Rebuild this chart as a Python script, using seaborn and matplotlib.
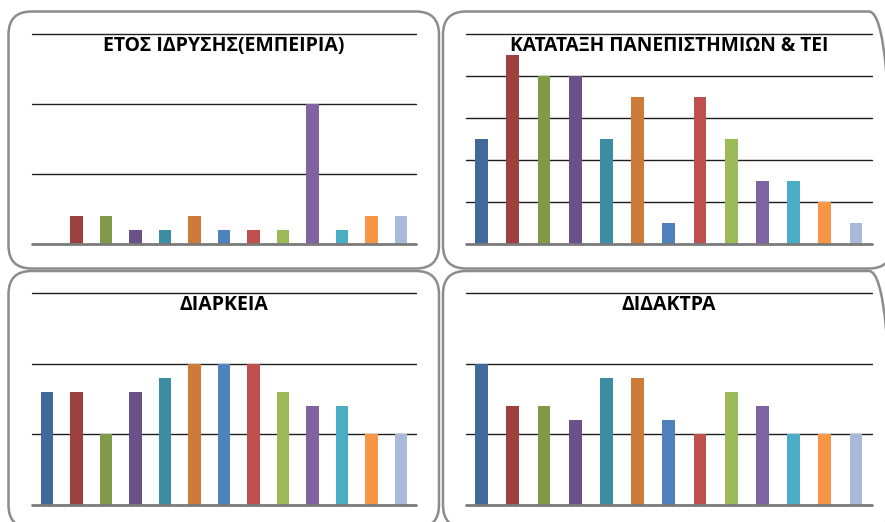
import matplotlib
matplotlib.use("Agg")
import matplotlib.pyplot as plt
from matplotlib.patches import FancyBboxPatch
import seaborn as sns
import pandas as pd

# ---- data ----
categories = [str(i) for i in range(1, 14)]
titles = ["ΕΤΟΣ ΙΔΡΥΣΗΣ(ΕΜΠΕΙΡΙΑ)", "ΚΑΤΑΤΑΞΗ ΠΑΝΕΠΙΣΤΗΜΙΩΝ & ΤΕΙ",
          "ΔΙΑΡΚΕΙΑ", "ΔΙΔΑΚΤΡΑ"]
etos_idrysis = [0, 2, 2, 1, 1, 2, 1, 1, 1, 10, 1, 2, 2]
katataxi = [5, 9, 8, 8, 5, 7, 1, 7, 5, 3, 3, 2, 1]
diarkeia = [8, 8, 5, 8, 9, 10, 10, 10, 8, 7, 7, 5, 5]
didaktra = [10, 7, 7, 6, 9, 9, 6, 5, 8, 7, 5, 5, 5]
y_max = [15, 10, 15, 15]
y_step = [5, 2, 5, 5]
palette = ["#41699B", "#9E413E", "#7F9A48", "#69518A", "#3C8DA3", "#CC7B38",
           "#4F81BD", "#C0504D", "#9BBB59", "#8064A2", "#4BACC6", "#F79646",
           "#A9B9D9"]

series = [etos_idrysis, katataxi, diarkeia, didaktra]

sns.set_theme(style="white")
plt.rcParams['font.family'] = ['Open Sans', 'DejaVu Sans']

W, H = 885, 522
fig = plt.figure(figsize=(W / 100, H / 100), dpi=100)

# rounded panel boxes (pixel coords: x0, y0_top, x1, y1_bottom)
boxes = [(8.5, 11.5, 439, 268.5), (443, 11.5, 892, 268.5),
         (8.5, 271, 439, 528), (443, 271, 892, 528)]
for (x0, yt, x1, yb) in boxes:
    p = FancyBboxPatch((x0 / W, 1 - yb / H), (x1 - x0) / W, (yb - yt) / H,
                       boxstyle="round,pad=0,rounding_size=0.026",
                       transform=fig.transFigure, facecolor="none",
                       edgecolor="#8c8c8c", linewidth=1.8, zorder=10,
                       mutation_aspect=W / H)
    fig.patches.append(p)

# axes rects (pixel coords: left, top gridline, right, baseline)
rects = [(32.3, 34, 415.7, 243.5), (466, 34, 871.7, 244.3),
         (32.3, 293.3, 415.7, 505), (466, 293.3, 871.7, 505)]
title_sizes = [14.0, 13.8, 14.0, 14.0]

for i, (l, t, r, b) in enumerate(rects):
    ax = fig.add_axes([l / W, 1 - b / H, (r - l) / W, (b - t) / H])
    ax.set_facecolor("none")
    df = pd.DataFrame({"cat": categories, "val": series[i]})
    sns.barplot(data=df, x="cat", y="val", hue="cat", palette=palette,
                legend=False, width=0.41, ax=ax, saturation=1,
                edgecolor="none", zorder=3)
    ax.set_xlim(-0.5, len(categories) - 0.5)
    ax.set_ylim(0, y_max[i])
    for v in range(y_step[i], y_max[i] + 1, y_step[i]):
        ax.axhline(v, color="#1e1e1e", lw=1.0, zorder=1, clip_on=False)
    ax.axhline(0, color="#7a7a7a", lw=2.0, zorder=4, clip_on=False)
    ax.set_xlabel("")
    ax.set_ylabel("")
    ax.set_xticks([])
    ax.set_yticks([])
    for s in ax.spines.values():
        s.set_visible(False)
    ax.text(0.5, 1 - 17.0 / (b - t), titles[i], transform=ax.transAxes,
            ha="center", va="baseline", fontsize=title_sizes[i],
            fontweight="bold", color="black", zorder=5)

fig.savefig("out.png", dpi=100)
